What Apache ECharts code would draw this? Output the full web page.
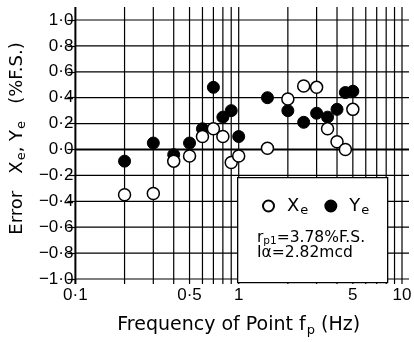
<!DOCTYPE html>
<html>
<head>
<meta charset="utf-8">
<script src="https://cdn.jsdelivr.net/npm/echarts@6.0.0/dist/echarts.min.js"></script>
<style>
  html,body{margin:0;padding:0;background:#fff;}
  #chart{width:414px;height:342px;}
</style>
</head>
<body>
<div id="chart"></div>
<script>
// frequency of point (Hz) and errors (%F.S.)
const freqs = [0.2, 0.3, 0.4, 0.5, 0.6, 0.7, 0.8, 0.9, 1.0, 1.5, 2, 2.5, 3, 3.5, 4, 4.5, 5];
const xeVals = [-0.35, -0.34, -0.09, -0.05, 0.10, 0.16, 0.10, -0.10, -0.05, 0.01, 0.39, 0.49, 0.48, 0.16, 0.06, 0.00, 0.31];
const yeVals = [-0.09, 0.05, -0.04, 0.05, 0.16, 0.48, 0.25, 0.30, 0.10, 0.40, 0.30, 0.21, 0.28, 0.25, 0.31, 0.44, 0.45];

// grid lines and tick labels
const gridX = [0.1, 0.2, 0.3, 0.4, 0.5, 0.6, 0.7, 0.8, 0.9, 1, 2, 3, 4, 5, 6, 7, 8, 9, 10];
const gridY = [-1.0, -0.8, -0.6, -0.4, -0.2, 0.0, 0.2, 0.4, 0.6, 0.8, 1.0];
const xTickVals = [0.1, 0.5, 1, 5, 10];
const xTickLabels = ['0·1', '0·5', '1', '5', '10'];

const X_MIN = 0.1, X_MAX = 10, Y_MIN = -1.0, Y_MAX = 1.0;

const tickFont = 'Liberation Sans';
const nameFont = 'DejaVu Sans';

function fmtY(v){
    const s = Math.abs(v).toFixed(1).replace('.', '·');
    return (v < -1e-9 ? '−' : '') + s;
}

function subRich(size, subSize, padLeft){
    return {
        n: {fontFamily: nameFont, fontSize: size, color: '#000', lineHeight: size + 4, padding: [0, 0, 0, padLeft || 0]},
        s: {fontFamily: nameFont, fontSize: subSize, color: '#000', lineHeight: size + 4, verticalAlign: 'bottom', padding: [0, 0, 0, 1]}
    };
}

const chart = echarts.init(document.getElementById('chart'), null, {renderer: 'canvas'});

const option = {
    backgroundColor: '#fff',
    animation: false,
    grid: {left: 73, right: 12, top: 20, bottom: 60},
    legend: {
        data: ['Xe', 'Ye'],
        left: 257,
        top: 192,
        z: 10,
        itemWidth: 11,
        itemHeight: 11,
        itemGap: 16,
        formatter: function(name){
            return '{n|' + name[0] + '}{s|' + name.slice(1) + '}';
        },
        textStyle: {rich: subRich(18, 13, 8)}
    },
    xAxis: {
        type: 'log',
        logBase: 10,
        min: X_MIN,
        max: X_MAX,
        axisLine: {show: false},
        axisTick: {show: false},
        axisLabel: {show: false},
        splitLine: {show: false},
        name: '{n|Frequency of Point f}{s|p}{n| (Hz)}',
        nameLocation: 'middle',
        nameGap: 35,
        nameTextStyle: {rich: subRich(19, 13)}
    },
    yAxis: {
        type: 'value',
        min: Y_MIN,
        max: Y_MAX,
        interval: 0.2,
        axisLine: {show: false},
        axisTick: {show: true, length: 8, lineStyle: {color: '#000', width: 1.2}},
        axisLabel: {
            margin: 2,
            fontFamily: tickFont,
            fontSize: 17,
            color: '#000',
            formatter: fmtY
        },
        splitLine: {show: false},
        name: '{n|Error   X}{s|e}{n|, Y}{s|e}{n|   (%F.S.)}',
        nameLocation: 'middle',
        nameRotate: 90,
        nameGap: 46,
        nameTextStyle: {rich: subRich(18, 13), padding: [0, 0, 0, 22]}
    },
    graphic: [
        {
            type: 'rect',
            left: 237,
            top: 177,
            z: 3,
            shape: {width: 150, height: 105},
            style: {fill: '#fff', stroke: '#000', lineWidth: 1.3}
        },
        {
            type: 'text',
            left: 257,
            top: 230,
            z: 20,
            style: {
                text: '{r|r}{p|p1}{r|=3.78%F.S.}',
                rich: {
                    r: {fontFamily: nameFont, fontSize: 15.5, fill: '#000', lineHeight: 17},
                    p: {fontFamily: nameFont, fontSize: 10.5, fill: '#000', lineHeight: 17, verticalAlign: 'bottom'}
                }
            }
        },
        {
            type: 'text',
            left: 257,
            top: 245,
            z: 20,
            style: {
                text: 'Iα=2.82mcd',
                font: '15.5px "DejaVu Sans"',
                fill: '#000'
            }
        }
    ],
    series: [
        {
            // vertical grid lines, running a little past the plot top and bottom
            type: 'custom',
            z: 1,
            silent: true,
            data: gridX.map(v => [v, Y_MIN]),
            renderItem: function(params, api){
                const x = api.value(0);
                const top = api.coord([x, Y_MAX]);
                const bot = api.coord([x, Y_MIN]);
                return {
                    type: 'line',
                    shape: {x1: top[0], y1: top[1] - 13, x2: bot[0], y2: bot[1] + 5},
                    style: {stroke: '#000', lineWidth: x === X_MIN ? 2 : 1.2}
                };
            }
        },
        {
            // horizontal grid lines, running a little past the right edge
            type: 'custom',
            z: 1,
            silent: true,
            data: gridY.map(v => [X_MIN, v]),
            renderItem: function(params, api){
                const y = api.value(1);
                const l = api.coord([X_MIN, y]);
                const r = api.coord([X_MAX, y]);
                return {
                    type: 'line',
                    shape: {x1: l[0], y1: l[1], x2: r[0] + 7, y2: r[1]},
                    style: {stroke: '#000', lineWidth: Math.abs(y) < 1e-9 ? 2 : 1.2}
                };
            }
        },
        {
            // x tick labels at 0.1, 0.5, 1, 5, 10
            type: 'custom',
            z: 1,
            silent: true,
            data: xTickVals.map(v => [v, Y_MIN]),
            renderItem: function(params, api){
                const p = api.coord([api.value(0), api.value(1)]);
                return {
                    type: 'text',
                    x: p[0],
                    y: p[1] + 8,
                    style: {
                        text: xTickLabels[params.dataIndex],
                        fontFamily: tickFont,
                        fontSize: 17,
                        fill: '#000',
                        align: 'center',
                        verticalAlign: 'top'
                    }
                };
            }
        },
        {
            name: 'Xe',
            type: 'scatter',
            z: 6,
            symbol: 'circle',
            symbolSize: 12,
            itemStyle: {color: '#fff', borderColor: '#000', borderWidth: 1.5, opacity: 1},
            data: freqs.map((f, i) => [f, xeVals[i]])
        },
        {
            name: 'Ye',
            type: 'scatter',
            z: 5,
            symbol: 'circle',
            symbolSize: 12,
            itemStyle: {color: '#000', borderColor: '#000', borderWidth: 1, opacity: 1},
            data: freqs.map((f, i) => [f, yeVals[i]])
        }
    ]
};

chart.setOption(option);
</script>
</body>
</html>
